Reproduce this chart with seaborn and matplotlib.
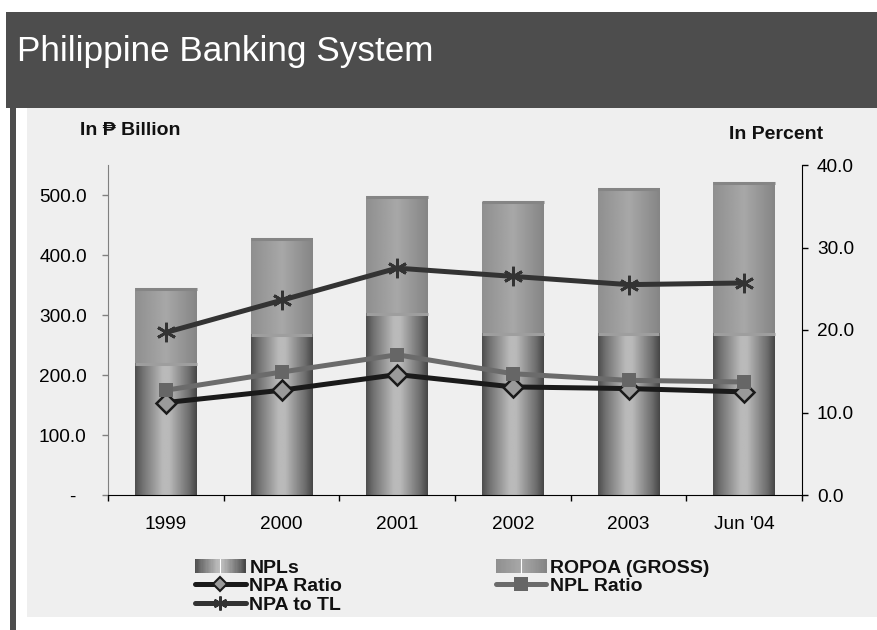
import numpy as np
import pandas as pd
import matplotlib
matplotlib.use("Agg")
import matplotlib.pyplot as plt
import seaborn as sns
from matplotlib.patches import Rectangle
from matplotlib.lines import Line2D
from matplotlib.legend_handler import HandlerBase

# ---------------- data ----------------
categories = ["1999", "2000", "2001", "2002", "2003", "Jun '04"]
npls = [220, 268, 303, 270, 270, 270]              # P billion
ropoa = [125, 160, 195, 219, 241, 251]             # P billion (stacked on NPLs)
npa_ratio = [11.2, 12.7, 14.6, 13.1, 12.9, 12.5]   # percent
npl_ratio = [12.7, 14.9, 17.0, 14.7, 13.9, 13.7]   # percent
npa_to_tl = [19.7, 23.6, 27.5, 26.5, 25.5, 25.7]   # percent
left_ticks = [0, 100, 200, 300, 400, 500]
right_ticks = [0, 10, 20, 30, 40]

# ---------------- style ----------------
sns.set_style("white")
plt.rcParams["font.family"] = ["Liberation Sans", "DejaVu Sans"]
plt.rcParams["text.color"] = "black"

W, H = 877, 630
fig = plt.figure(figsize=(W / 100, H / 100), dpi=100, facecolor="white")

def fx(px):
    return px / W

def fy(py):
    return 1 - py / H

# background decorations
for (x0, y0, x1, y1, c) in [(27, 108, 877, 617, "#efefef"),
                            (6, 12, 877, 108, "#4d4d4d"),
                            (10, 108, 16, 630, "#4d4d4d")]:
    fig.patches.append(Rectangle((fx(x0), fy(y1)), fx(x1 - x0), (y1 - y0) / H,
                                 transform=fig.transFigure, facecolor=c,
                                 edgecolor="none", zorder=-10))
fig.text(fx(17), fy(61), "Philippine Banking System", color="white",
         fontsize=25.3, va="baseline", ha="left")

ax = fig.add_axes([fx(108), fy(495), fx(802 - 108), (495 - 165) / H])
ax.set_facecolor("none")

df = pd.DataFrame({"cat": categories, "npl": npls,
                   "total": np.array(npls) + np.array(ropoa)})

bw = 0.535
sns.barplot(data=df, x="cat", y="total", ax=ax, color="#9a9a9a", width=bw,
            saturation=1, edgecolor="none", zorder=1)
sns.barplot(data=df, x="cat", y="npl", ax=ax, color="#808080", width=bw,
            saturation=1, edgecolor="none", zorder=1.2)

ropoa_t = [0, 0.5, 1]
ropoa_v = [0.56, 0.66, 0.52]
npl_t = [0, 0.12, 0.45, 0.55, 0.88, 1]
npl_v = [0.30, 0.44, 0.73, 0.73, 0.42, 0.27]

N = 64
tt = (np.arange(N) + 0.5) / N
for cont, (tp, vp), z in [(ax.containers[0], (ropoa_t, ropoa_v), 1.1),
                          (ax.containers[1], (npl_t, npl_v), 1.3)]:
    grad = np.interp(tt, tp, vp)[None, :]
    for p in cont.patches:
        x0, y0 = p.get_x(), p.get_y()
        w, h = p.get_width(), p.get_height()
        im = ax.imshow(grad, cmap="gray", vmin=0, vmax=1, aspect="auto",
                       extent=[x0, x0 + w, y0, y0 + h], zorder=z,
                       interpolation="bilinear")
        im.set_clip_path(p)
        # thin cap band at the top of each cylinder segment
        cap = 0.62 if z > 1.2 else 0.52
        ax.hlines(y0 + h - 1.2, x0, x0 + w, color=(cap, cap, cap), lw=2.2,
                  zorder=z + 0.05)

ax.set_xlim(-0.5, len(categories) - 0.5)
ax.set_ylim(0, 550)
ax.set_xlabel("")
ax.set_ylabel("")
ax.set_yticks(left_ticks)
ax.set_yticklabels(["-  " if v == 0 else f"{v:.1f}" for v in left_ticks])
ax.tick_params(axis="y", which="major", length=4.3, width=1, color="#808080",
               direction="out", pad=11, labelsize=13.7, labelcolor="black",
               left=True)
ax.set_xticks(np.arange(-0.5, len(categories)), minor=True)
ax.tick_params(axis="x", which="major", length=0, pad=15, labelsize=13.7,
               labelcolor="black")
ax.tick_params(axis="x", which="minor", length=4.3, width=1, color="black",
               direction="out", bottom=True)
for s in ["top", "right"]:
    ax.spines[s].set_visible(False)
ax.spines["left"].set_color("#808080")
ax.spines["bottom"].set_color("black")
ax.spines["bottom"].set_zorder(5)

# ---------------- lines on right axis ----------------
ax2 = ax.twinx()
ax2.set_facecolor("none")
xpos = np.arange(len(categories))
sns.lineplot(x=xpos, y=npa_to_tl, ax=ax2, color="#333333", lw=3.6,
             marker=(6, 2, 0), markersize=14, markeredgewidth=2.0,
             markeredgecolor="#333333", zorder=3)
sns.lineplot(x=xpos, y=npa_ratio, ax=ax2, color="#1a1a1a", lw=3.6,
             marker="D", markersize=10, markerfacecolor="#9a9a9a",
             markeredgecolor="#1a1a1a", markeredgewidth=1.8, zorder=3)
sns.lineplot(x=xpos, y=npl_ratio, ax=ax2, color="#6b6b6b", lw=3.6,
             marker="s", markersize=10, markerfacecolor="#666666",
             markeredgecolor="#666666", markeredgewidth=0, zorder=4)
ax2.set_ylim(0, 40)
ax2.set_xlim(-0.5, len(categories) - 0.5)
ax2.set_yticks(right_ticks)
ax2.set_yticklabels([f"{v:.1f}" for v in right_ticks])
ax2.tick_params(axis="y", length=4.3, width=1, color="black", direction="out",
                pad=6.5, labelsize=13.7, labelcolor="black", right=True)
for s in ["top", "left", "bottom"]:
    ax2.spines[s].set_visible(False)
ax2.spines["right"].set_color("black")
ax2.set_xlabel("")
ax2.set_ylabel("")

# axis titles
fig.text(fx(80), fy(135), "In \u20b1 Billion", fontsize=14, fontweight="bold",
         va="baseline", ha="left", color="#111111",
         family=["Liberation Sans", "DejaVu Sans"])
fig.text(fx(776), fy(139), "In Percent", fontsize=14, fontweight="bold",
         va="baseline", ha="center", color="#111111")

# ---------------- legend ----------------
class GradHandler(HandlerBase):
    def __init__(self, tp, vp):
        super().__init__()
        self.tp, self.vp = tp, vp

    def create_artists(self, legend, orig_handle, xdescent, ydescent,
                       width, height, fontsize, trans):
        arts = []
        n = 40
        for i in range(n):
            t = (i + 0.5) / n
            v = float(np.interp(t, self.tp, self.vp))
            arts.append(Rectangle((-xdescent + i * width / n, -ydescent),
                                  width / n * 1.1, height,
                                  facecolor=(v, v, v), edgecolor="none",
                                  transform=trans))
        arts.append(Line2D([-xdescent + width / 2] * 2,
                           [-ydescent, -ydescent + height], color="white",
                           lw=0.8, transform=trans))
        return arts

h_npl = Rectangle((0, 0), 1, 1)
h_rop = Rectangle((0, 0), 1, 1)
h_npa = Line2D([], [], color="#1a1a1a", lw=3.6, marker="D", markersize=7.5,
               markerfacecolor="#9a9a9a", markeredgecolor="#1a1a1a",
               markeredgewidth=1.5)
h_tl = Line2D([], [], color="#333333", lw=3.6, marker=(6, 2, 0),
              markersize=10, markeredgewidth=1.8, markeredgecolor="#333333")
h_nplr = Line2D([], [], color="#6b6b6b", lw=3.6, marker="s", markersize=10,
                markerfacecolor="#666666", markeredgewidth=0)

leg = fig.legend([h_npl, h_npa, h_tl, h_rop, h_nplr],
                 ["NPLs", "NPA Ratio", "NPA to TL", "ROPOA (GROSS)", "NPL Ratio"],
                 ncol=2, loc="upper left",
                 bbox_to_anchor=(fx(195), fy(559)),
                 bbox_transform=fig.transFigure,
                 frameon=False, borderpad=0, borderaxespad=0,
                 handlelength=2.6, handletextpad=0.2, columnspacing=7.9,
                 labelspacing=0.05, numpoints=1,
                 prop={"weight": "bold", "size": 14},
                 handler_map={h_npl: GradHandler(npl_t, npl_v),
                              h_rop: GradHandler(ropoa_t, ropoa_v)})
for t in leg.get_texts():
    t.set_color("#111111")

fig.savefig("out.png", dpi=100, facecolor="white")
